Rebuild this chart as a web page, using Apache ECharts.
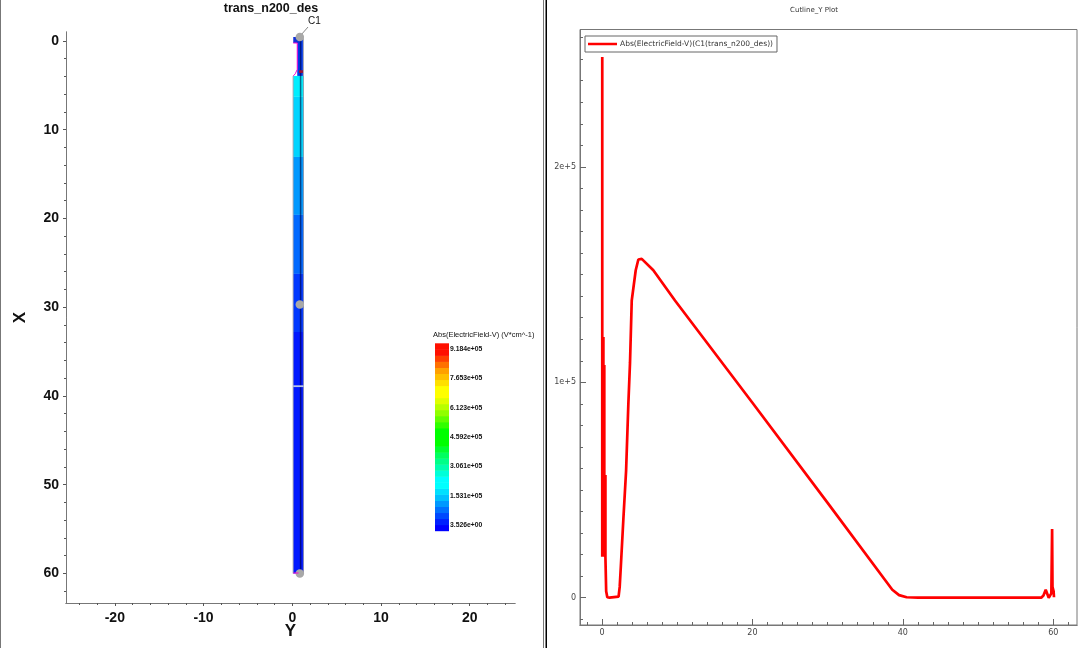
<!DOCTYPE html>
<html>
<head>
<meta charset="utf-8">
<title>trans_n200_des</title>
<style>
    html, body { margin: 0; padding: 0; background: #fff; }
    #chart { width: 1080px; height: 648px; }
</style>
<script src="https://cdn.jsdelivr.net/npm/echarts@6/dist/echarts.min.js"></script>
</head>
<body>
<div id="chart"></div>
<script>
// cutline values, x in um and |E| in V/cm
const cutlineX = [0.03, 0.03, 0.18, 0.18, 0.3, 0.3, 0.45, 0.45, 0.55, 0.7, 1.0, 2.2, 2.35, 2.5, 2.83, 3.2, 3.5, 3.72, 3.95, 4.48, 4.83, 5.28, 6.82, 9.7, 20, 30, 38.6, 39.5, 40.5, 42, 58.4, 58.7, 59.0, 59.4, 59.75, 59.85, 59.9, 60.05, 60.1];
const cutlineE = [251000, 19000, 121000, 19000, 108000, 19000, 57000, 19000, 3000, 200, 0, 500, 5000, 14500, 36000, 59000, 90000, 109000, 138000, 152000, 157000, 157300, 152000, 138000, 90500, 44000, 3700, 1200, 200, 0, 0, 1000, 3700, 0, 2000, 31900, 5000, 3000, 200];

// device bands along X (um) and their palette
const bandEdges = [3.94, 6.3, 13.07, 19.6, 26.25, 32.8, 60];
const bandColors = ['#00eeff', '#00d4ff', '#0098ff', '#0068ff', '#0038ff', '#0018ff'];
const deviceWidth = 1.27;

// upper mesa and cap, as [Y from, Y to, X from, X to]
const mesaBlocks = [
    [0.56, 1.2, -0.3, 3.94],
    [0.11, 0.9, -0.45, 0.23]
];
const mesaColors = ['#0038e8', '#1030d8'];

// metal / oxide outline
const outlineY = [0.11, 0.56, 0.56, 0.34, 0.11];
const outlineX = [0.23, 0.23, 3.2, 3.7, 3.94];
const bottomEdgeY = [0.11, 0.7];
const bottomEdgeX = [59.95, 59.95];

// cutline C1 probes
const probeY = [0.85, 0.85, 0.85];
const probeX = [-0.45, 29.7, 60];

const junctionX = 38.9;

// axis ticks
const leftXTicks = [-20, -10, 0, 10, 20];
const leftYTicks = [0, 10, 20, 30, 40, 50, 60];
const plotXTicks = [0, 20, 40, 60];
const plotYTicks = [0, 100000, 200000];

// colour legend, bottom to top
const colorbarTicks = [3.526, 153100, 306100, 459200, 612300, 765300, 918400];
const colorbarLabels = ['3.526e+00', '1.531e+05', '3.061e+05', '4.592e+05', '6.123e+05', '7.653e+05', '9.184e+05'];
const colorbarColors = ['#0000ff', '#0020ff', '#0048ff', '#0070ff', '#0098ff', '#00c0ff', '#00e0ff', '#00ffff', '#00ffff', '#00ffd8', '#00ffb0', '#00ff88', '#00ff60', '#00ff30', '#00ff00', '#00ff00', '#00ff00', '#30ff00', '#60ff00', '#90ff00', '#b8ff00', '#e0ff00', '#ffff00', '#ffff00', '#ffe000', '#ffc000', '#ffa000', '#ff7000', '#ff4000', '#ff1000', '#ff1000'];
const colorbarMin = -29750;
const colorbarMax = 948150;

function minorTicks(from, to, step, majors) {
    let ticks = [];
    for (let v = from; v <= to; v += step) {
        if (!majors.includes(v)) ticks.push(v);
    }
    return ticks;
}

// one axis, ticks always explicit so the non-round extents stay put
function leftAxis(range, ticks, length, extra) {
    return Object.assign({
        type: 'value',
        gridIndex: 0,
        min: range[0],
        max: range[1],
        splitLine: { show: false },
        axisLine: { onZero: false, lineStyle: { color: '#777', width: 1 } },
        axisTick: { customValues: ticks, length: length, lineStyle: { color: '#555' } },
        axisLabel: { show: false }
    }, extra);
}

function plotAxis(range, ticks, length, extra) {
    return Object.assign({
        type: 'value',
        gridIndex: 1,
        min: range[0],
        max: range[1],
        splitLine: { show: false },
        axisLine: { onZero: false, lineStyle: { color: '#777', width: 1 } },
        axisTick: { inside: true, customValues: ticks, length: length, lineStyle: { color: '#666' } },
        axisLabel: { show: false }
    }, extra);
}

const boldLabel = { show: true, color: '#111', fontFamily: 'Liberation Sans', fontWeight: 'bold', fontSize: 14 };
const plotLabel = { show: true, color: '#444', fontFamily: 'DejaVu Sans', fontSize: 8 };

const leftXRange = [-25.5, 25.1];
const leftYRange = [-1.01, 63.33];
const plotXRange = [-2.93, 63.16];
const plotYRange = [-12674, 263789];

function rectItem(api, y0, y1, x0, x1, style) {
    const a = api.coord([y0, x0]);
    const b = api.coord([y1, x1]);
    return { type: 'rect', shape: { x: a[0], y: a[1], width: b[0] - a[0], height: b[1] - a[1] }, style: style };
}

function renderBand(params, api) {
    const i = params.dataIndex;
    return rectItem(api, 0.11, deviceWidth, bandEdges[i], bandEdges[i + 1], { fill: bandColors[i] });
}

function renderMesa(params, api) {
    const b = mesaBlocks[params.dataIndex];
    return rectItem(api, b[0], b[1], b[2], b[3], { fill: mesaColors[params.dataIndex] });
}

function renderColorbar(params, api) {
    const i = params.dataIndex;
    const step = (colorbarMax - colorbarMin) / colorbarColors.length;
    const a = api.coord([0, colorbarMin + i * step]);
    const b = api.coord([1, colorbarMin + (i + 1) * step]);
    return {
        type: 'rect',
        shape: { x: a[0], y: b[1], width: b[0] - a[0], height: a[1] - b[1] + 0.5 },
        style: { fill: colorbarColors[i] }
    };
}

// dark stripe and side edges, over the coloured bands
function renderOverlay(params, api) {
    const top = bandEdges[0];
    return {
        type: 'group',
        children: [
            rectItem(api, 0.85, 1.02, -0.3, 60, { fill: 'rgba(0,0,50,0.55)' }),
            rectItem(api, 0.05, 0.13, top, 60, { fill: '#8a8a9a' }),
            rectItem(api, 1.2, 1.29, -0.3, 60, { fill: '#8a8a9a' }),
            rectItem(api, 0.11, deviceWidth, junctionX - 0.1, junctionX + 0.1, { fill: '#b8c4e8' }),
            rectItem(api, 0.75, 1.2, 3.3, 3.6, { fill: '#a01030' })
        ]
    };
}

const cutlineName = 'Abs(ElectricField-V)(C1(trans_n200_des))';

const option = {
    animation: false,
    backgroundColor: '#fff',
    title: [
        { text: 'trans_n200_des', left: 271, top: 2, padding: 0, textAlign: 'center', textStyle: { fontFamily: 'Liberation Sans', fontWeight: 'bold', fontSize: 12.5, color: '#111' } },
        { text: 'Cutline_Y Plot', left: 814, top: 6.5, padding: 0, textAlign: 'center', textStyle: { fontFamily: 'DejaVu Sans', fontWeight: 'normal', fontSize: 7, color: '#333' } },
        { text: 'Abs(ElectricField-V) (V*cm^-1)', left: 433, top: 331, padding: 0, textStyle: { fontFamily: 'Liberation Sans', fontWeight: 'normal', fontSize: 7.5, color: '#111' } }
    ],
    legend: {
        data: [cutlineName],
        left: 585,
        top: 36,
        padding: [4, 4, 4, 3],
        itemWidth: 29,
        itemHeight: 2.5,
        icon: 'rect',
        itemGap: 0,
        borderColor: '#666',
        borderWidth: 1,
        textStyle: { fontFamily: 'DejaVu Sans', fontSize: 7.5, color: '#333', padding: [0, 0, 0, -2] }
    },
    grid: [
        { left: 66, top: 32, width: 449, height: 571, outerBoundsMode: 'none' },
        { left: 580, top: 29.5, width: 497, height: 595.5, show: true, borderColor: '#777', borderWidth: 1, backgroundColor: 'transparent', outerBoundsMode: 'none' },
        { left: 435, top: 343.3, width: 14, height: 187.4, outerBoundsMode: 'none' }
    ],
    xAxis: [
        leftAxis(leftXRange, leftXTicks, 3, {
            position: 'bottom',
            name: 'Y',
            nameLocation: 'middle',
            nameGap: 20,
            nameMoveOverlap: false,
            nameTextStyle: { fontFamily: 'Liberation Sans', fontWeight: 'bold', fontSize: 17, color: '#111' },
            axisLabel: Object.assign({ customValues: leftXTicks, margin: 8 }, boldLabel)
        }),
        leftAxis(leftXRange, minorTicks(-24, 24, 2, leftXTicks), 2, { position: 'bottom' }),
        plotAxis(plotXRange, plotXTicks, 6, {
            position: 'bottom',
            axisLabel: Object.assign({ customValues: plotXTicks, margin: 4 }, plotLabel)
        }),
        plotAxis(plotXRange, minorTicks(-2, 62, 2, plotXTicks), 3, { position: 'bottom' }),
        { type: 'value', gridIndex: 2, min: 0, max: 1, show: false }
    ],
    yAxis: [
        leftAxis(leftYRange, leftYTicks, 3, {
            position: 'left',
            inverse: true,
            name: 'X',
            nameLocation: 'middle',
            nameGap: 37,
            nameMoveOverlap: false,
            nameTextStyle: { fontFamily: 'Liberation Sans', fontWeight: 'bold', fontSize: 17, color: '#111' },
            axisLabel: Object.assign({ customValues: leftYTicks, margin: 7 }, boldLabel)
        }),
        leftAxis(leftYRange, minorTicks(0, 62, 2, leftYTicks), 2, { position: 'left', inverse: true }),
        plotAxis(plotYRange, plotYTicks, 6, {
            position: 'left',
            axisLabel: Object.assign({
                customValues: plotYTicks,
                margin: 4,
                formatter: function (v) { return v === 0 ? '0' : (v / 100000) + 'e+5' }
            }, plotLabel)
        }),
        plotAxis(plotYRange, minorTicks(-10000, 260000, 10000, plotYTicks), 3, { position: 'left' }),
        {
            type: 'value',
            gridIndex: 2,
            position: 'right',
            min: colorbarMin,
            max: colorbarMax,
            splitLine: { show: false },
            axisLine: { show: false, onZero: false },
            axisTick: { show: false },
            axisLabel: {
                customValues: colorbarTicks,
                margin: 1,
                color: '#111',
                fontFamily: 'Liberation Sans',
                fontWeight: 'bold',
                fontSize: 6.8,
                formatter: function (v) { return colorbarLabels[colorbarTicks.indexOf(v)] }
            }
        }
    ],
    series: [
        { type: 'custom', xAxisIndex: 0, yAxisIndex: 0, clip: false, silent: true, renderItem: renderBand, data: bandColors.map((c, i) => i) },
        { type: 'custom', xAxisIndex: 0, yAxisIndex: 0, clip: false, silent: true, renderItem: renderMesa, data: mesaBlocks.map((b, i) => i) },
        { type: 'custom', xAxisIndex: 0, yAxisIndex: 0, clip: false, silent: true, renderItem: renderOverlay, data: [0] },
        {
            type: 'line', xAxisIndex: 0, yAxisIndex: 0, symbol: 'none', silent: true,
            lineStyle: { color: '#ff00d0', width: 1 },
            data: outlineY.map((y, i) => [y, outlineX[i]])
        },
        {
            type: 'line', xAxisIndex: 0, yAxisIndex: 0, symbol: 'none', silent: true,
            lineStyle: { color: '#ff00d0', width: 1 },
            data: bottomEdgeY.map((y, i) => [y, bottomEdgeX[i]])
        },
        {
            type: 'scatter', xAxisIndex: 0, yAxisIndex: 0, symbolSize: 8.5, silent: true, clip: false,
            itemStyle: { color: '#a8a8a8', opacity: 1 },
            data: probeY.map((y, i) => [y, probeX[i]])
        },
        {
            name: cutlineName,
            type: 'line',
            xAxisIndex: 2,
            yAxisIndex: 2,
            symbol: 'none',
            smooth: false,
            itemStyle: { color: '#ff0000' },
            lineStyle: { color: '#ff0000', width: 2.7 },
            data: cutlineX.map((x, i) => [x, cutlineE[i]])
        },
        { type: 'custom', xAxisIndex: 4, yAxisIndex: 4, clip: false, silent: true, renderItem: renderColorbar, data: colorbarColors.map((c, i) => i) }
    ],
    graphic: [
        // window frames
        { type: 'rect', shape: { x: 0, y: 0, width: 1, height: 648 }, style: { fill: '#777' } },
        { type: 'rect', shape: { x: 543, y: 0, width: 1, height: 648 }, style: { fill: '#777' } },
        { type: 'rect', shape: { x: 545.5, y: 0, width: 1.5, height: 648 }, style: { fill: '#000' } },
        // C1 callout
        { type: 'line', shape: { x1: 301, y1: 35, x2: 308, y2: 27 }, style: { stroke: '#888', lineWidth: 1 } },
        { type: 'text', left: 308, top: 16, style: { text: 'C1', fontFamily: 'Liberation Sans', fontSize: 10, fill: '#111' } }
    ]
}

let myChart = echarts.init(document.getElementById('chart'), null, { renderer: 'canvas' })
myChart.setOption(option)
</script>
</body>
</html>
